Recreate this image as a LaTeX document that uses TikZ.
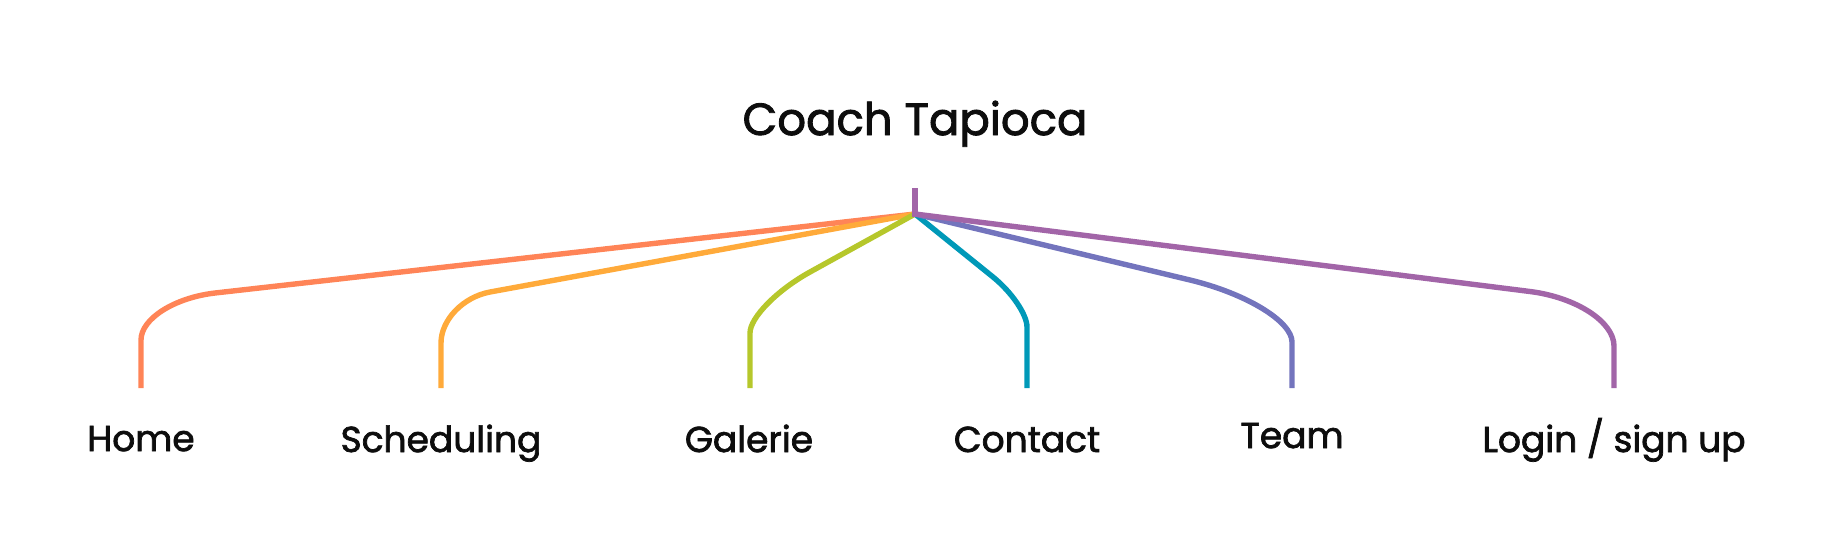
\documentclass[tikz,border=0pt]{standalone}
\usepackage{fontspec}
\setmainfont{Poppins}
\newfontfamily\labfont{Poppins}[FakeBold=2]
\definecolor{cHome}{HTML}{FF8457}
\definecolor{cSched}{HTML}{FFAA3A}
\definecolor{cGal}{HTML}{B6C72B}
\definecolor{cCont}{HTML}{0099B8}
\definecolor{cTeam}{HTML}{7374BD}
\definecolor{cLog}{HTML}{A265A8}
\begin{document}
\begin{tikzpicture}[x=1pt,y=-1pt,
  branch/.style={line width=5.4pt, line cap=butt},
  title/.style={font=\labfont\fontsize{45}{50}\selectfont, text=black!95, anchor=base, inner sep=0pt},
  leaf/.style={font=\labfont\fontsize{36}{40}\selectfont, text=black!95, anchor=base, inner sep=0pt}]
\useasboundingbox (0,0) rectangle (1832,542);
\node[title] (root) at (915,135) {Coach Tapioca};
\coordinate (top) at (915,188);
\coordinate (J) at (915,214);
\coordinate (eHome) at (141,388);
\coordinate (eSched) at (441,388);
\coordinate (eGal) at (750,388);
\coordinate (eCont) at (1027,388);
\coordinate (eTeam) at (1292,388);
\coordinate (eLog) at (1614,388);
\draw[branch,cHome] (J) -- (215,293) .. controls (174.3,297.7) and (141,318.8) .. (141,340) -- (eHome);
\draw[branch,cSched] (J) -- (490,292) .. controls (463,297) and (441,319.9) .. (441,343) -- (eSched);
\draw[branch,cGal] (J) -- (810,272) .. controls (777,290.2) and (750,317.6) .. (750,333) -- (eGal);
\draw[branch,cCont] (J) -- (993,277) .. controls (1011.7,292.1) and (1027,314.6) .. (1027,327) -- (eCont);
\draw[branch,cTeam] (J) -- (1190,280) .. controls (1246.1,293.5) and (1292,321.4) .. (1292,342) -- (eTeam);
\draw[branch,cLog] (J) -- (1530,291.5) .. controls (1576.2,297.3) and (1614,321.8) .. (1614,346) -- (eLog);
\draw[branch,cLog] (top) -- ([yshift=-2.7pt]J);
\node[leaf] (home) at (141,451) {Home};
\node[leaf] (sched) at (441,452) {Scheduling};
\node[leaf] (gal) at (749,452) {Galerie};
\node[leaf] (cont) at (1027,452) {Contact};
\node[leaf] (team) at (1292,448) {Team};
\node[leaf] (login) at (1614,452) {Login / sign up};
\end{tikzpicture}
\end{document}
